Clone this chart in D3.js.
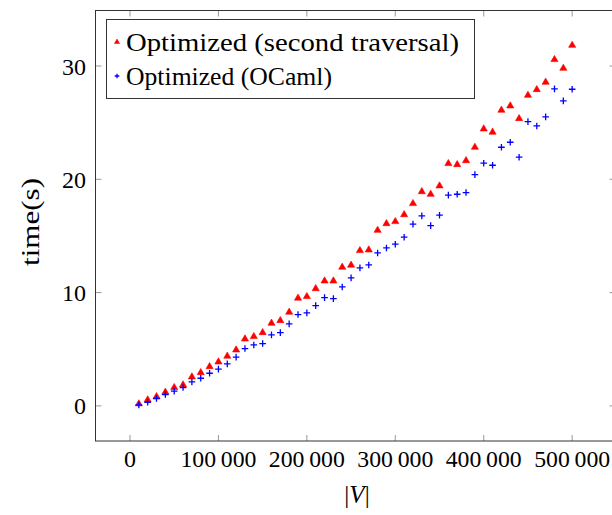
<!DOCTYPE html>
<html><head><meta charset="utf-8">
<script src="https://cdn.jsdelivr.net/npm/d3@7"></script>
<style>
html,body{margin:0;padding:0;background:#fff;}
</style></head>
<body>
<svg id="c" width="612" height="515"></svg>
<script>
const sizes = [10000,20000,30000,40000,50000,60000,70000,80000,90000,100000,
 110000,120000,130000,140000,150000,160000,170000,180000,190000,200000,
 210000,220000,230000,240000,250000,260000,270000,280000,290000,300000,
 310000,320000,330000,340000,350000,360000,370000,380000,390000,400000,
 410000,420000,430000,440000,450000,460000,470000,480000,490000,500000];
const secondTraversal = [0.18,0.53,0.82,1.21,1.62,1.85,2.56,2.94,3.47,3.88,
 4.39,4.94,5.91,6.12,6.47,7.30,7.53,8.27,9.51,9.65,
 10.35,11.03,11.03,12.24,12.42,13.71,13.77,15.50,16.09,16.27,
 16.88,17.86,18.91,18.68,19.42,21.39,21.30,21.65,22.83,24.45,
 24.16,26.10,26.48,25.36,27.42,27.92,28.57,30.57,29.80,31.83];
const ocaml = [0.09,0.32,0.65,1.00,1.30,1.62,2.12,2.44,2.88,3.24,
 3.71,4.30,5.06,5.38,5.50,6.27,6.47,7.24,8.06,8.21,
 8.85,9.56,9.47,10.50,11.30,12.18,12.44,13.50,13.94,14.27,
 14.89,16.04,16.77,15.91,16.83,18.60,18.68,18.83,20.41,21.42,
 21.24,22.83,23.27,21.95,25.09,24.71,25.51,27.98,26.92,27.95];
const xTicks = [0,100000,200000,300000,400000,500000];
const yTicks = [0,10,20,30];
const seriesNames = ["Optimized (second traversal)","Optimized (OCaml)"];

const FONT = "Liberation Serif";
const svg = d3.select("#c");
const x = d3.scaleLinear().domain([-39000,549000]).range([95.5,615.5]);
const y = d3.scaleLinear().domain([-3.1,34.9]).range([441,10.5]);
const fmt = v => d3.format(",d")(v).replace(/,/g,"\u2009");

const tl = 6;
const tg = svg.append("g").attr("stroke","#999").attr("stroke-width",1);
xTicks.forEach(t=>{
  tg.append("line").attr("x1",x(t)).attr("x2",x(t)).attr("y1",y.range()[0]).attr("y2",y.range()[0]-tl);
  tg.append("line").attr("x1",x(t)).attr("x2",x(t)).attr("y1",y.range()[1]).attr("y2",y.range()[1]+tl);
});
yTicks.forEach(t=>{
  tg.append("line").attr("x1",x.range()[0]).attr("x2",x.range()[0]+tl).attr("y1",y(t)).attr("y2",y(t));
  tg.append("line").attr("x1",x.range()[1]).attr("x2",x.range()[1]-tl).attr("y1",y(t)).attr("y2",y(t));
});
svg.append("rect").attr("x",x.range()[0]).attr("y",y.range()[1])
  .attr("width",x.range()[1]-x.range()[0]).attr("height",y.range()[0]-y.range()[1])
  .attr("fill","none").attr("stroke","#333").attr("stroke-width",1);

svg.append("g").selectAll("text").data(xTicks).join("text")
  .attr("font-family",FONT)
  .attr("x",d=>x(d)).attr("y",467).attr("text-anchor","middle")
  .attr("font-size",24).attr("textLength",d=>d===0?null:76).attr("lengthAdjust","spacingAndGlyphs").text(fmt);
svg.append("g").selectAll("text").data(yTicks).join("text")
  .attr("font-family",FONT)
  .attr("x",86).attr("y",d=>y(d)+8.5).attr("text-anchor","end")
  .attr("font-size",24).text(d=>d);

svg.append("text").attr("font-family",FONT).attr("x",357).attr("y",503).attr("text-anchor","middle")
  .attr("font-size",25).html('|<tspan font-style="italic">V</tspan>|');
svg.append("text").attr("font-family",FONT).attr("transform","translate(39,222) rotate(-90)")
  .attr("text-anchor","middle").attr("font-size",26).attr("textLength",88).attr("lengthAdjust","spacingAndGlyphs").text("time(s)");

const tri = d3.symbol().type(d3.symbolTriangle).size(22);
const data = sizes.map((s,i)=>({s,a:secondTraversal[i],b:ocaml[i]}));
svg.append("g").selectAll("path").data(data).join("path")
  .attr("d",tri).attr("transform",d=>`translate(${x(d.s)},${y(d.a)})`)
  .attr("fill","#f00").attr("stroke","#f00").attr("stroke-width",0.6);
function plus(g,cx,cy,r){
  g.append("path").attr("d",`M${cx-r},${cy}H${cx+r}M${cx},${cy-r}V${cy+r}`)
   .attr("stroke","#00f").attr("stroke-width",1.3).attr("fill","none");
}
const pg = svg.append("g");
data.forEach(d=>plus(pg,x(d.s),y(d.b),3.3));

svg.append("rect").attr("x",106.5).attr("y",19.5).attr("width",368).attr("height",79)
  .attr("fill","#fff").attr("stroke","#333").attr("stroke-width",1);
svg.append("path").attr("d",d3.symbol().type(d3.symbolTriangle).size(12))
  .attr("transform","translate(117,42)").attr("fill","#f00").attr("stroke","#f00").attr("stroke-width",0.5);
plus(svg,117,76,2.3);
svg.append("text").attr("font-family",FONT).attr("x",126).attr("y",51).attr("font-size",25)
  .attr("textLength",333).attr("lengthAdjust","spacingAndGlyphs").text(seriesNames[0]);
svg.append("text").attr("font-family",FONT).attr("x",126).attr("y",85).attr("font-size",25)
  .attr("textLength",206).attr("lengthAdjust","spacingAndGlyphs").text(seriesNames[1]);
</script>
</body></html>
